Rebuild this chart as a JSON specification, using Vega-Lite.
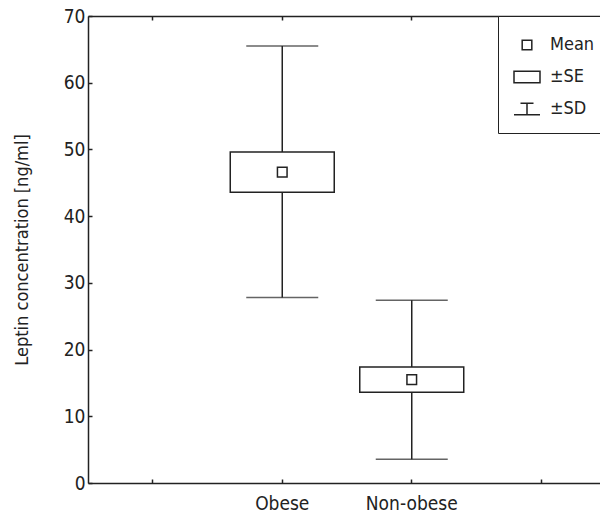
{
  "$schema": "https://vega.github.io/schema/vega-lite/v6.json",
  "autosize": {"type": "none"},
  "padding": {"left": 88, "top": 16, "right": 0, "bottom": 31},
  "width": 512,
  "height": 467,
  "config": {
    "view": {"stroke": null},
    "font": "DejaVu Sans Condensed, sans-serif",
    "axis": {
      "grid": false,
      "domainColor": "#222",
      "domainWidth": 1.5,
      "tickColor": "#222",
      "tickWidth": 1.5,
      "tickSize": -4,
      "labelColor": "#222",
      "labelFontSize": 19,
      "titleColor": "#222",
      "titleFontWeight": "normal",
      "titleFontSize": 18
    },
    "legend": {
      "orient": "none",
      "legendX": 410,
      "legendY": 0,
      "strokeColor": "#222",
      "fillColor": "white",
      "padding": 15,
      "labelFontSize": 18,
      "labelColor": "#222",
      "labelOffset": 9,
      "rowPadding": 9,
      "symbolSize": 676,
      "symbolStrokeWidth": 1.5,
      "symbolStrokeColor": "#222",
      "symbolFillColor": "transparent"
    }
  },
  "data": {
    "values": [
      {"group": "Obese", "mean": 46.6, "se_lo": 43.6, "se_hi": 49.6, "sd_lo": 27.8, "sd_hi": 65.5, "legend": "Mean"},
      {"group": "Non-obese", "mean": 15.5, "se_lo": 13.6, "se_hi": 17.4, "sd_lo": 3.55, "sd_hi": 27.4, "legend": "Mean"}
    ]
  },
  "encoding": {
    "x": {
      "field": "group",
      "type": "nominal",
      "scale": {"domain": ["a", "Obese", "Non-obese", "b"], "range": [0, 518], "paddingInner": 0, "paddingOuter": 0},
      "axis": null
    }
  },
  "layer": [
    {
      "mark": {"type": "rule", "color": "#222", "strokeWidth": 1.5},
      "encoding": {
        "x": {
          "field": "group",
          "type": "nominal",
          "axis": {
            "orient": "bottom",
            "title": null,
            "labelAngle": 0,
            "labelPadding": 15,
            "labelExpr": "datum.label == 'a' || datum.label == 'b' ? '' : datum.label"
          }
        },
        "y": {
          "field": "sd_lo",
          "type": "quantitative",
          "scale": {"domain": [0, 70], "nice": false, "zero": true},
          "axis": {
            "values": [0, 10, 20, 30, 40, 50, 60, 70],
            "title": "Leptin concentration [ng/ml]",
            "labelPadding": 7,
            "titlePadding": 32
          }
        },
        "y2": {"field": "sd_hi"}
      }
    },
    {
      "mark": {"type": "bar", "fill": "white", "stroke": "#222", "strokeWidth": 1.5, "width": {"band": 0.803}},
      "encoding": {
        "y": {"field": "se_lo", "type": "quantitative"},
        "y2": {"field": "se_hi"}
      }
    },
    {
      "mark": {"type": "tick", "color": "#222", "thickness": 1.5, "size": 72},
      "encoding": {"y": {"field": "sd_hi", "type": "quantitative"}}
    },
    {
      "mark": {"type": "tick", "color": "#222", "thickness": 1.5, "size": 72},
      "encoding": {
        "y": {"field": "sd_lo", "type": "quantitative"},
        "x": {
          "field": "group",
          "type": "nominal",
          "axis": {"orient": "top", "labels": false, "labelColor": "transparent", "title": null}
        }
      }
    },
    {
      "mark": {"type": "point", "filled": false, "color": "#222", "strokeWidth": 1.5, "size": 676, "opacity": 1},
      "encoding": {
        "y": {"field": "mean", "type": "quantitative"},
        "shape": {
          "field": "legend",
          "type": "nominal",
          "scale": {
            "domain": ["Mean", "±SE", "±SD"],
            "range": [
              "M-0.37,-0.37H0.37V0.37H-0.37Z",
              "M-1,-0.45H1V0.45H-1Z",
              "M-0.5,-0.45H0.5M0,-0.45V0.45M-1,0.45H1"
            ]
          },
          "legend": {"title": null}
        }
      }
    }
  ],
  "resolve": {"axis": {"x": "independent"}}
}
